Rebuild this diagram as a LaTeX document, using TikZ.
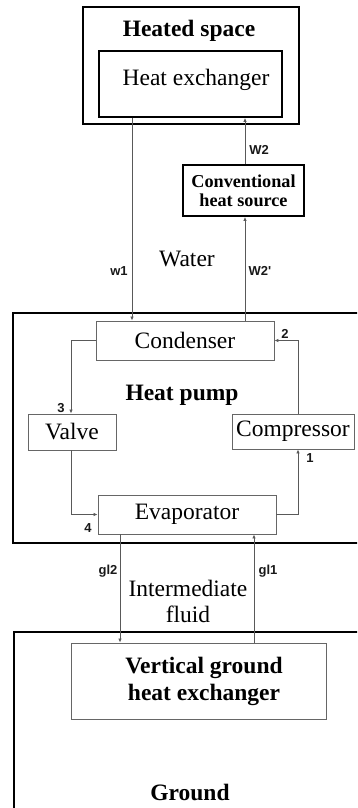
\documentclass[tikz,border=0pt]{standalone}
\usepackage{fontspec}
\setmainfont{Liberation Serif}
\newfontfamily\labfont{Liberation Sans}
\usetikzlibrary{arrows.meta}
\tikzset{
  thickbox/.style={draw=black, line width=1.8pt, inner sep=0pt, minimum width=#1},
  thinbox/.style={draw=black!60, line width=0.9pt, inner sep=0pt, fill=white},
  arr/.style={draw=black!65, line width=0.9pt, -{Latex[length=4pt,width=3.5pt]}},
  big/.style={font=\fontsize{23.5}{27}\selectfont},
  bigb/.style={font=\fontsize{23.5}{27}\selectfont\bfseries},
  lab/.style={font=\fontsize{13}{14}\selectfont\labfont\bfseries, text=black!90, inner sep=0pt},
}
\begin{document}
\begin{tikzpicture}[x=1pt,y=-1pt]
\clip (0,0) rectangle (357,808);
\fill[white] (0,0) rectangle (357,808);
% outer boxes
\node[thickbox=216pt, minimum height=117pt] (heated) at (191,65.5) {};
\node[bigb] (heatedt) at (189,31) {Heated space};
\node[thickbox=183pt, minimum height=66pt, big] (hx) at (190.5,84) {};
\node[big] (hxt) at (196,80) {Heat exchanger};
\node[thickbox=121pt, minimum height=51pt, align=center, font=\fontsize{18.2}{19}\selectfont\bfseries] (conv) at (243.5,190.5) {Conventional\\heat source};
\node[thickbox=358pt, minimum height=230pt] (hp) at (192,428) {};
\node[bigb] (hpt) at (182,395) {Heat pump};
\node[thickbox=358pt, minimum height=190pt] (gnd) at (193,727) {};
\node[bigb] (gndt) at (190,792) {Ground};
% inner boxes
\node[thinbox, minimum width=178pt, minimum height=39pt, big] (cond) at (185,340.5) {Condenser};
\node[thinbox, minimum width=88pt, minimum height=36pt, big] (valve) at (72,432) {Valve};
\node[thinbox, minimum width=122pt, minimum height=35pt, big] (comp) at (293,431.5) {Compressor};
\node[thinbox, minimum width=178pt, minimum height=39pt, big] (evap) at (187,514.5) {Evaporator};
\node[thinbox, minimum width=255pt, minimum height=76pt, align=center, font=\fontsize{23.5}{27}\selectfont\bfseries] (vghe) at (198.5,681) {\hspace*{11pt}Vertical ground\\\hspace*{11pt}heat exchanger};
% helper coordinates
\coordinate (xw1) at (132,0);
\coordinate (xw2) at (245,0);
\coordinate (xr) at (298,0);
\coordinate (xl) at (71,0);
\coordinate (xg2) at (120,0);
\coordinate (xg1) at (254,0);
% water connectors
\draw[arr] (hx.south -| xw1) -- (cond.north -| xw1);
\draw[arr] (conv.north -| xw2) -- (hx.south -| xw2);
\draw[arr] (cond.north -| xw2) -- (conv.south -| xw2);
% refrigerant loop
\draw[arr] (cond.west) -| (valve.north -| xl);
\draw[arr] (valve.south -| xl) |- (evap.west);
\draw[arr] (evap.east) -| (comp.south -| xr);
\draw[arr] (comp.north -| xr) |- (cond.east);
% ground loop
\draw[arr] (evap.south -| xg2) -- (vghe.north -| xg2);
\draw[arr] (vghe.north -| xg1) -- (evap.south -| xg1);
% labels
\node[big] (water) at (187,259) {Water};
\node[big, align=center, font=\fontsize{23.5}{26}\selectfont] (fluid) at (188,601) {Intermediate\\fluid};
\node[lab] (lw1) at (119,271) {w1};
\node[lab] (lw2) at (259,150) {W2};
\node[lab] (lw2p) at (260,271) {W2'};
\node[lab] (l1) at (310,458) {1};
\node[lab] (l2) at (285,334) {2};
\node[lab] (l3) at (61,408) {3};
\node[lab] (l4) at (88,528) {4};
\node[lab] (lg2) at (108,571) {gl2};
\node[lab] (lg1) at (268,571) {gl1};
\end{tikzpicture}
\end{document}
